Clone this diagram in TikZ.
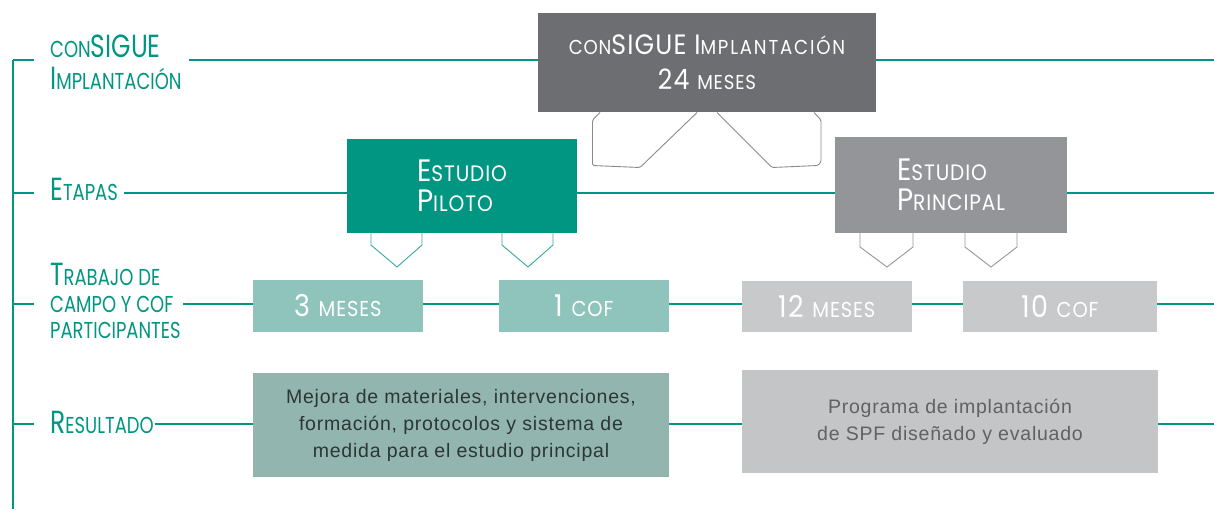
\documentclass[tikz,border=0pt]{standalone}
\usepackage{fontspec}
\newfontfamily\gfont[FakeStretch=0.78]{Poppins}
\newfontfamily\gwfont[FakeStretch=0.9,LetterSpace=4]{Poppins}
\newfontfamily\gxfont[FakeStretch=0.9,LetterSpace=9]{Poppins}
\newfontfamily\hfont[LetterSpace=4]{Liberation Sans}
\makeatletter
\newcommand\smc[1]{{\edef\tmpsz{\strip@pt\dimexpr 0.72\dimexpr\f@size pt\relax\relax}\fontsize{\tmpsz}{\tmpsz}\selectfont #1}}
\makeatother
\definecolor{teal1}{HTML}{009682}
\definecolor{dgray}{HTML}{6D6E71}
\definecolor{mgray}{HTML}{939598}
\definecolor{lteal}{HTML}{8EC4BB}
\definecolor{lgray}{HTML}{C8C9CB}
\definecolor{rteal}{HTML}{92B5B0}
\definecolor{rgray}{HTML}{C4C5C7}
\definecolor{brgray}{HTML}{8A8A8C}
\begin{document}
\begin{tikzpicture}[x=1pt,y=-1pt,
  tl/.style={draw=teal1,line width=1.6pt},
  lbl/.style={anchor=base west,inner sep=0pt,text=teal1,font=\gfont\fontsize{32}{32}\selectfont},
  box/.style={rectangle,inner sep=0pt,align=center,text=white},
  hbox/.style={box,font=\gwfont\fontsize{30}{30}\selectfont},
  bracket/.style={draw=brgray,line width=0.9pt,rounded corners=1.5pt},
  pent/.style={line width=0.9pt},
  restext/.style={box,font=\hfont\fontsize{19.5}{27}\selectfont}]
\useasboundingbox (0,0) rectangle (1214,509);

% left axis
\coordinate (ax0) at (13,60);
\coordinate (ax1) at (13,509);
\draw[tl] (ax0) -- (ax1);
\foreach \yy/\nm in {60/ta,193/tb,304/tc,424/td}{
  \coordinate (\nm0) at (13,\yy);
  \coordinate (\nm1) at (34,\yy);
  \draw[tl] (\nm0) -- (\nm1);
}

% left labels
\node[lbl] (l1a) at (50,57) {\smc{CON}SIGUE};
\node[lbl] (l1b) at (50,89) {I\smc{MPLANTACIÓN}};
\node[lbl] (l2) at (50,200) {E\smc{TAPAS}};
\node[lbl] (l3a) at (50,285) {T\smc{RABAJO DE}};
\node[lbl] (l3b) at (50,312) {\smc{CAMPO Y COF}};
\node[lbl] (l3c) at (50,338) {\smc{PARTICIPANTES}};
\node[lbl] (l4) at (50,433) {R\smc{ESULTADO}};

% boxes
\node[box,fill=dgray,minimum width=338pt,minimum height=99pt,
      font=\gwfont\fontsize{28}{35}\selectfont] (top) at (707,62.5)
      {\smc{CON}SIGUE I{\gxfont\smc{MPLANTACIÓN}}\\24 \smc{MESES}};
\node[box,fill=teal1,minimum width=230pt,minimum height=94pt,align=left,
      font=\gwfont\fontsize{31}{30}\selectfont] (pil) at (462,186)
      {E\smc{STUDIO}\\P\smc{ILOTO}};
\node[box,fill=mgray,minimum width=232pt,minimum height=96pt,align=left,
      font=\gwfont\fontsize{31}{30}\selectfont] (pri) at (951,185)
      {E\smc{STUDIO}\\P\smc{RINCIPAL}};
\node[hbox,fill=lteal,minimum width=170pt,minimum height=52pt] (m3) at (338,306) {3 \smc{MESES}};
\node[hbox,fill=lteal,minimum width=170pt,minimum height=52pt] (c1) at (584,306) {1 \smc{COF}};
\node[hbox,fill=lgray,minimum width=170pt,minimum height=51pt] (m12) at (827,306.5) {12 \smc{MESES}};
\node[hbox,fill=lgray,minimum width=194pt,minimum height=51pt] (c10) at (1060,306.5) {10 \smc{COF}};
\node[restext,fill=rteal,minimum width=416pt,minimum height=104pt,text=black!70!rteal] (r1) at (461,425)
      {Mejora de materiales, intervenciones,\\formación, protocolos y sistema de\\medida para el estudio principal};
\node[restext,fill=rgray,minimum width=416pt,minimum height=103pt,text=black!62] (r2) at (950,421.5)
      {Programa de implantación\\de SPF diseñado y evaluado};

% row lines
\coordinate (s1) at (189,60);  \coordinate (e1) at (1214,60);
\coordinate (s2) at (124,193); \coordinate (e2) at (1214,193);
\coordinate (s3) at (183,304); \coordinate (e3) at (1214,304);
\coordinate (s4) at (155,424); \coordinate (e4) at (1214,424);
\draw[tl] (s1) -- (top.west |- s1);
\draw[tl] (top.east |- s1) -- (e1);
\draw[tl] (s2) -- (pil.west |- s2);
\draw[tl] (pil.east |- s2) -- (pri.west |- s2);
\draw[tl] (pri.east |- s2) -- (e2);
\draw[tl] (s3) -- (m3.west |- s3);
\draw[tl] (m3.east |- s3) -- (c1.west |- s3);
\draw[tl] (c1.east |- s3) -- (m12.west |- s3);
\draw[tl] (m12.east |- s3) -- (c10.west |- s3);
\draw[tl] (c10.east |- s3) -- (e3);
\draw[tl] (s4) -- (r1.west |- s4);
\draw[tl] (r1.east |- s4) -- (r2.west |- s4);
\draw[tl] (r2.east |- s4) -- (e4);

% brackets under top box
\draw[bracket] (600,112.5) -- (592.5,120) -- (592.5,165.5) -- (640,167.5) -- (697,112.5);
\draw[bracket] (717,112.5) -- (772,167.5) -- (818,165.5) -- (821,162) -- (821,120) -- (814,112.5);

% pentagons
\draw[pent,draw=teal1!80] (371,233) -- (371,245) -- (397,267) -- (422,245) -- (422,233);
\draw[pent,draw=teal1!80] (502,233) -- (502,245) -- (528,267) -- (553,245) -- (553,233);
\draw[pent,draw=mgray] (860,233) -- (860,247) -- (887,267) -- (913,247) -- (913,233);
\draw[pent,draw=mgray] (965,233) -- (965,247) -- (991,267) -- (1017,247) -- (1017,233);
\end{tikzpicture}
\end{document}
